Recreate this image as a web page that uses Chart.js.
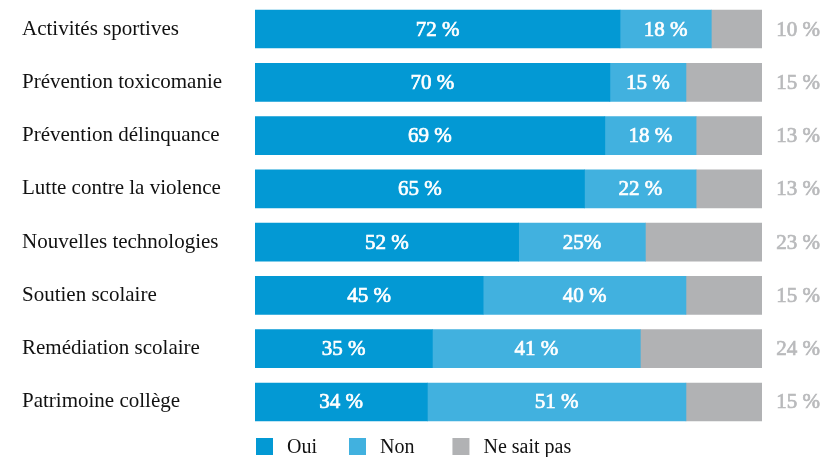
<!DOCTYPE html>
<html lang="fr">
<head>
<meta charset="utf-8">
<title>Activités</title>
<script src="https://cdn.jsdelivr.net/npm/chart.js@4"></script>
<style>
  html, body { margin: 0; padding: 0; background: #fff; }
  canvas { display: block; }
</style>
</head>
<body>
<canvas id="chart" width="837" height="457"></canvas>
<script>
'use strict';

// categories et valeurs (%)
const categories = [
  "Activités sportives",
  "Prévention toxicomanie",
  "Prévention délinquance",
  "Lutte contre la violence",
  "Nouvelles technologies",
  "Soutien scolaire",
  "Remédiation scolaire",
  "Patrimoine collège"
];
const seriesNames = ["Oui", "Non", "Ne sait pas"];
const oui = [72, 70, 69, 65, 52, 45, 35, 34];
const non = [18, 15, 18, 22, 25, 40, 41, 51];
const nsp = [10, 15, 13, 13, 23, 15, 24, 15];

// textes affichés sur les barres
const ouiLabels = ["72 %", "70 %", "69 %", "65 %", "52 %", "45 %", "35 %", "34 %"];
const nonLabels = ["18 %", "15 %", "18 %", "22 %", "25%", "40 %", "41 %", "51 %"];
const nspLabels = ["10 %", "15 %", "13 %", "13 %", "23 %", "15 %", "24 %", "15 %"];

const colors = ["#0399d4", "#41b1df", "#b1b2b4"];
const serif = "'Liberation Serif', 'Times New Roman', serif";

/**
 * étiquettes de valeur + légende dessinées à la main
 */
const labelsPlugin = {
  id: "barLabels",
  afterDatasetsDraw(chart) {
    const ctx = chart.ctx;
    const allLabels = [ouiLabels, nonLabels, nspLabels];
    ctx.save();
    ctx.font = "21px " + serif;
    ctx.textBaseline = "middle";
    ctx.textAlign = "center";
    ctx.lineWidth = 0.7;
    for (let d = 0; d < 3; d++) {
      const meta = chart.getDatasetMeta(d);
      meta.data.forEach((bar, i) => {
        const txt = allLabels[d][i];
        let x = (bar.x + bar.base) / 2;
        if (d < 2) {
          ctx.fillStyle = ctx.strokeStyle = "#ffffff";
        } else {
          ctx.fillStyle = ctx.strokeStyle = "#b9babc";
          x = chart.chartArea.right + 36;
        }
        ctx.fillText(txt, x, bar.y + 1);
        ctx.strokeText(txt, x, bar.y + 1);
      });
    }

    // légende
    const ly = 447;
    let lx = 256;
    ctx.font = "20px " + serif;
    ctx.textAlign = "left";
    const gaps = [32, 38];
    seriesNames.forEach((name, i) => {
      ctx.fillStyle = colors[i];
      ctx.fillRect(lx, ly - 9, 17, 17);
      ctx.fillStyle = "#111111";
      ctx.fillText(name, lx + 31, ly + 1);
      lx += 31 + ctx.measureText(name).width + (gaps[i] || 0);
    });
    ctx.restore();
  }
};

new Chart(document.getElementById("chart"), {
  type: "bar",
  data: {
    labels: categories,
    datasets: [
      { label: seriesNames[0], data: oui, backgroundColor: colors[0] },
      { label: seriesNames[1], data: non, backgroundColor: colors[1] },
      { label: seriesNames[2], data: nsp, backgroundColor: colors[2] }
    ]
  },
  options: {
    indexAxis: "y",
    responsive: false,
    animation: false,
    layout: { padding: { left: 22, right: 75, top: 2.4, bottom: 28.4 } },
    datasets: {
      bar: { barThickness: 38, categoryPercentage: 1, borderWidth: 0 }
    },
    plugins: {
      legend: { display: false },
      tooltip: { enabled: false }
    },
    scales: {
      x: {
        stacked: true,
        min: 0,
        max: 100,
        display: false
      },
      y: {
        stacked: true,
        grid: { display: false },
        border: { display: false },
        afterFit(scale) {
          scale.width = 233;
          scale.paddingTop = 0;
          scale.paddingBottom = 0;
        },
        ticks: {
          crossAlign: "far",
          padding: 0,
          color: "#111111",
          font: { family: serif, size: 21 }
        }
      }
    }
  },
  plugins: [labelsPlugin]
});
</script>
</body>
</html>
